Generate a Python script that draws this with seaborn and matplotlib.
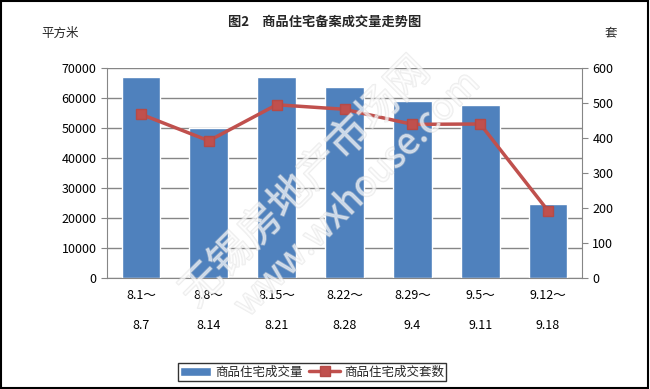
import numpy as np
import pandas as pd
import matplotlib
matplotlib.use("Agg")
import matplotlib.pyplot as plt
import matplotlib.patheffects as pe
import seaborn as sns

periods = ["8.1～\n\n8.7", "8.8～\n\n8.14", "8.15～\n\n8.21", "8.22～\n\n8.28",
           "8.29～\n\n9.4", "9.5～\n\n9.11", "9.12～\n\n9.18"]
area = [67100, 49900, 67100, 63800, 59000, 57800, 24700]
units = [468, 392, 495, 482, 439, 440, 192]

df = pd.DataFrame({"period": periods, "area": area, "units": units})

sns.set_style("white")
plt.rcParams['font.family'] = ['Noto Sans CJK SC', 'DejaVu Sans']

fig = plt.figure(figsize=(6.5, 3.89), dpi=100)
ax = fig.add_axes([107 / 650, 1 - 278 / 389, 475 / 650, 210 / 389])

blue = "#4f81bd"
red = "#c0504d"
grid = "#868686"

sns.barplot(data=df, x="period", y="area", color=blue, width=0.57,
            saturation=1, ax=ax, zorder=2, label="商品住宅成交量")
if ax.get_legend() is not None:
    ax.get_legend().remove()
ax.set_ylim(0, 70000)
ax.set_yticks(range(0, 70001, 10000))
ax.yaxis.grid(True, color=grid, linewidth=1)
ax.set_axisbelow(True)
ax.set_xlabel("")
ax.set_ylabel("")

ax2 = ax.twinx()
x = np.arange(len(periods))
ax2.plot(x, df["units"], color=red, linewidth=2.5, marker="s", markersize=7,
         markerfacecolor=red, markeredgecolor="#b54a47", label="商品住宅成交套数")
ax2.set_ylim(0, 600)
ax2.set_yticks(range(0, 601, 100))

for a in (ax, ax2):
    for s in a.spines.values():
        s.set_visible(False)
    a.tick_params(labelsize=9, colors="black")
ax.spines["left"].set_visible(True)
ax.spines["left"].set_color(grid)
ax.spines["bottom"].set_visible(True)
ax.spines["bottom"].set_color(grid)
ax2.spines["right"].set_visible(True)
ax2.spines["right"].set_color(grid)
ax.tick_params(axis="y", direction="out", length=4, color=grid, left=True)
ax2.tick_params(axis="y", direction="out", length=4, color=grid, right=True)
ax.tick_params(axis="x", length=0, pad=8)
ax.set_xticks(x)
ax.set_xticklabels(periods, fontsize=9, linespacing=1.2)
ax.set_xlim(-0.5, len(periods) - 0.5)

fig.text(0.5, 1 - 22 / 389, "图2　商品住宅备案成交量走势图", ha="center", va="center",
         fontsize=9.5, fontweight="bold")
fig.text(60 / 650, 1 - 33 / 389, "平方米", ha="center", va="center", fontsize=9)
fig.text(611 / 650, 1 - 33 / 389, "套", ha="center", va="center", fontsize=9)

# outlined watermark, drawn faintly on top
wm = [pe.withStroke(linewidth=1.2, foreground="#d8d8d8")]
for txt, xx, yy, fs in [("无锡房地产市场网", 0.47, 0.53, 30), ("www.wxhouse.com", 0.55, 0.50, 26)]:
    fig.text(xx, yy, txt, rotation=45, fontsize=fs, color="white", ha="center",
             va="center", zorder=10, alpha=0.45, path_effects=wm)

h1, l1 = ax.get_legend_handles_labels()
h2, l2 = ax2.get_legend_handles_labels()
fig.legend(h1 + h2, l1 + l2, loc="center", bbox_to_anchor=(312 / 650, 1 - 372 / 389),
           ncol=2, fontsize=9, frameon=True, fancybox=False, edgecolor="black",
           handlelength=2.5, columnspacing=0.5, handletextpad=0.3, borderpad=0.2)

fig.patches.append(plt.Rectangle((0.002, 0.003), 0.995, 0.994, transform=fig.transFigure,
                                 fill=False, edgecolor="black", linewidth=1.5))

fig.savefig("out.png", dpi=100)
